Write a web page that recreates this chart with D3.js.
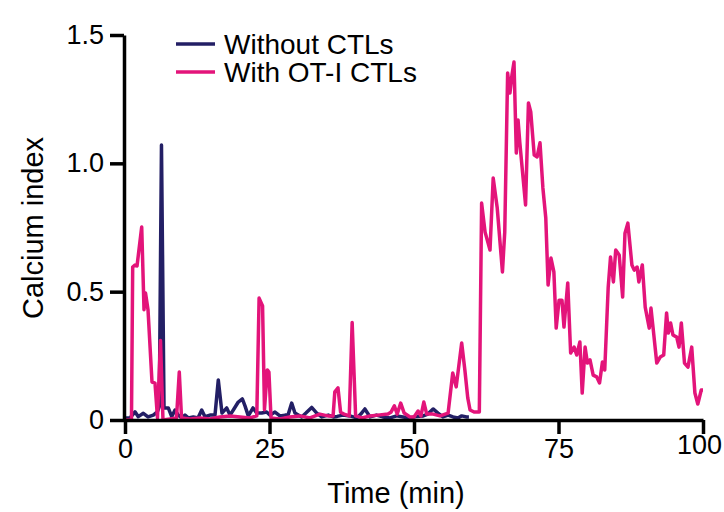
<!DOCTYPE html>
<html>
<head>
<meta charset="utf-8">
<script src="https://cdn.jsdelivr.net/npm/d3@7"></script>
<style>
  body { margin: 0; background: #fff; }
  text { font-family: "Liberation Sans", Arial, sans-serif; fill: #000; }
  .axis path, .axis line { stroke: #000; stroke-width: 3.5; }
  .axis text { font-size: 27px; }
</style>
</head>
<body>
<div id="chart"></div>
<script>
// series: time (min) and calcium index
const withTime = [0, 1.12, 1.33, 1.73, 2.08, 2.89, 3.29, 3.55, 3.98, 4.67, 5.19, 5.62, 6.14, 6.57, 7.79, 8.91, 9.39, 9.78,
  11.25, 12.98, 14.7, 16.4, 18.2, 19.9, 21.6, 22.8, 23.2, 23.8, 24.13, 24.62, 24.9, 25.26, 26.8, 28.5, 30.3, 32.0, 33.7,
  35.1, 36.0, 36.3, 36.85, 37.3, 37.9, 38.8, 39.3, 39.9, 41.0, 42.4, 44.1, 45.5, 46.0, 46.6, 47.1, 47.7, 48.3, 49.3,
  50.0, 50.7, 51.2, 51.7, 52.2, 53.3, 54.5, 55.9, 56.7, 57.3, 58.25, 58.8, 59.3, 59.7, 60.4, 61.3, 61.7, 62.3, 63.15,
  63.7, 64.4, 65.3, 65.7, 66.2, 66.6, 66.95, 67.3, 67.7, 68.0, 68.3, 69.3, 69.8, 70.2, 70.8, 71.3, 71.8, 72.3, 72.8,
  73.2, 73.7, 74.2, 74.6, 75.1, 75.6, 75.95, 76.6, 77.1, 77.7, 78.15, 78.7, 79.1, 79.6, 80.0, 80.45, 81.0, 81.6, 82.1,
  82.6, 83.0, 83.6, 84.0, 84.5, 84.9, 85.5, 86.1, 86.5, 87.0, 87.7, 88.1, 88.6, 88.9, 89.5, 90.0, 90.7, 91.0, 91.35,
  92.0, 92.6, 93.2, 93.7, 94.0, 94.4, 94.8, 95.45, 95.85, 96.25, 96.8, 97.4, 98.05, 98.6, 99.1, 99.7, 100];
const withValue = [0, 0, 0.596, 0.604, 0.6, 0.752, 0.43, 0.495, 0.43, 0.148, 0.144, 0.008, 0.31, 0, 0.004, 0.008, 0.187, 0.008,
  0.004, 0.008, 0.004, 0.012, 0.016, 0.012, 0.008, 0.016, 0.475, 0.444, 0.04, 0.195, 0.187, 0.008, 0.004, 0.012, 0.016, 0.008, 0.023,
  0.016, 0.016, 0.11, 0.125, 0.03, 0.023, 0.016, 0.38, 0.016, 0.008, 0.016, 0.02, 0.023, 0.03, 0.055, 0.023, 0.066, 0.027, 0.012,
  0.012, 0.035, 0.016, 0.07, 0.023, 0.023, 0.016, 0.027, 0.183, 0.129, 0.3, 0.195, 0.086, 0.039, 0.031, 0.031, 0.845, 0.732, 0.662,
  0.943, 0.826, 0.577, 0.732, 1.352, 1.274, 1.344, 1.395, 1.04, 1.169, 1.083, 0.838, 1.235, 1.2, 1.032, 1.025, 1.08, 0.904, 0.787,
  0.526, 0.631, 0.577, 0.358, 0.467, 0.467, 0.362, 0.534, 0.261, 0.284, 0.253, 0.304, 0.105, 0.284, 0.222, 0.234, 0.175, 0.168, 0.144,
  0.226, 0.195, 0.518, 0.635, 0.538, 0.662, 0.643, 0.479, 0.728, 0.767, 0.604, 0.584, 0.596, 0.538, 0.604, 0.44, 0.358, 0.436, 0.362,
  0.222, 0.245, 0.253, 0.417, 0.339, 0.378, 0.331, 0.323, 0.284, 0.378, 0.222, 0.206, 0.284, 0.105, 0.062, 0.117, 0.117];

const withoutTime = [0, 0.87, 1.73, 2.3, 3.17, 3.98, 4.9, 5.59, 5.93, 6.31, 6.75, 7.49, 8.08, 8.65, 9.22, 9.81, 10.38, 10.95,
  11.82, 12.63, 13.27, 13.84, 14.7, 15.57, 16.14, 16.78, 17.6, 18.17, 18.74, 19.6, 20.3, 20.76, 21.33, 22.15, 22.78, 23.65,
  24.5, 25.1, 25.95, 26.8, 27.7, 28.2, 28.84, 29.4, 30.57, 31.3, 32.3, 33.17, 34.03, 35.17, 36.04, 36.7, 37.7, 38.9, 40.1,
  40.8, 41.5, 42.4, 43.5, 44.6, 45.85, 47.0, 48.1, 49.3, 50.5, 51.6, 52.4, 53.3, 54.15, 55.0, 55.9, 56.75, 57.6, 58.25, 59.1, 59.5];
const withoutValue = [0.008, 0.008, 0.032, 0.013, 0.026, 0.012, 0.019, 0.032, 0.052, 1.071, 0.047, 0.047, 0.013, 0.039, 0.019, 0.008, 0.019, 0.008,
  0.012, 0.008, 0.039, 0.013, 0.019, 0.019, 0.156, 0.027, 0.047, 0.019, 0.039, 0.07, 0.082, 0.055, 0.016, 0.047, 0.027, 0.027,
  0.031, 0.019, 0.031, 0.016, 0.019, 0.019, 0.066, 0.027, 0.012, 0.027, 0.049, 0.027, 0.012, 0.019, 0.012, 0.014, 0.019, 0.016, 0.008,
  0.023, 0.043, 0.012, 0.019, 0.012, 0.008, 0.016, 0.012, 0.008, 0.014, 0.016, 0.023, 0.043, 0.027, 0.012, 0.019, 0.012, 0.008, 0.016, 0.012, 0.012];

const xTicks = [0, 25, 50, 75, 100];
const yTicks = [0, 0.5, 1.0, 1.5];
const seriesNames = ["Without CTLs", "With OT-I CTLs"];
const seriesColors = ["#231f65", "#e3147a"];

const width = 724, height = 512;
const svg = d3.select("#chart").append("svg").attr("width", width).attr("height", height);

let x = d3.scaleLinear().domain([0, 100]).range([125, 703]);
let y = d3.scaleLinear().domain([0, 1.5]).range([420, 35]);

let line = d3.line().x(d => x(d[0])).y(d => y(d[1]));

let withoutData = withoutTime.map((t, i) => [t, withoutValue[i]]);
let withData = withTime.map((t, i) => [t, withValue[i]]);

svg.append("path").datum(withoutData).attr("d", line)
  .attr("fill", "none").attr("stroke", seriesColors[0]).attr("stroke-width", 3.5).attr("stroke-linejoin", "round");
svg.append("path").datum(withData).attr("d", line)
  .attr("fill", "none").attr("stroke", seriesColors[1]).attr("stroke-width", 3.5).attr("stroke-linejoin", "round");

let xAxis = d3.axisBottom(x).tickValues(xTicks).tickSize(14).tickSizeOuter(0).tickPadding(5).tickFormat(d3.format("d"));
let gx = svg.append("g").attr("class", "axis").attr("transform", "translate(0,420)").call(xAxis);
// last label sits against the right edge, nudged in and up a little like the original
gx.selectAll(".tick text").filter(d => d == 100).attr("dx", -4).attr("dy", "0.55em");

let yAxis = d3.axisLeft(y).tickValues(yTicks).tickSize(14).tickSizeOuter(0).tickPadding(6)
  .tickFormat(d => d == 0 ? "0" : d3.format(".1f")(d));
svg.append("g").attr("class", "axis").attr("transform", "translate(124,0)").call(yAxis);

svg.append("text").attr("x", 396).attr("y", 503).attr("text-anchor", "middle").style("font-size", "29px").text("Time (min)");
svg.append("text").attr("transform", "translate(43,228) rotate(-90)").attr("text-anchor", "middle")
  .style("font-size", "29px").text("Calcium index");

// legend
let legend = svg.append("g");
seriesNames.forEach((name, i) => {
  let ly = 44 + i * 28;
  legend.append("line").attr("x1", 176).attr("x2", 215).attr("y1", ly).attr("y2", ly)
    .attr("stroke", seriesColors[i]).attr("stroke-width", 3.5);
  legend.append("text").attr("x", 224).attr("y", ly + 10).style("font-size", "28px").text(name);
});
</script>
</body>
</html>
